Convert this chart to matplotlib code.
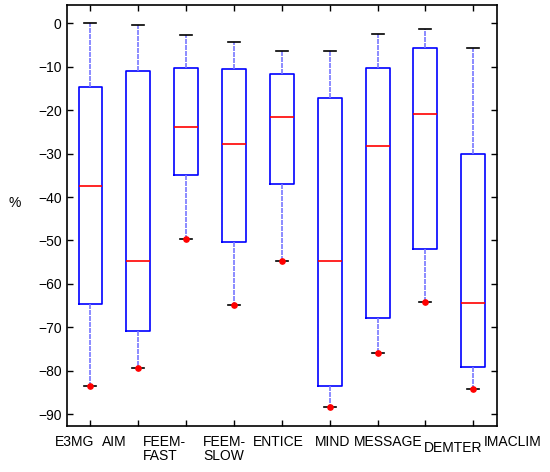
import matplotlib
matplotlib.use("Agg")
import matplotlib.pyplot as plt
import matplotlib.transforms as mtransforms

plt.rcParams['font.family'] = ['Liberation Sans', 'DejaVu Sans']
plt.rcParams['font.size'] = 10

# models and box statistics (%)
models = ["E3MG", "AIM", "FEEM-\nFAST", "FEEM-\nSLOW", "ENTICE",
          "MIND", "MESSAGE", "DEMTER", "IMACLIM"]
upper = [0.0, -0.4, -2.6, -4.4, -6.3, -6.3, -2.4, -1.3, -5.8]
q3 = [-14.6, -11.0, -10.4, -10.6, -11.7, -17.1, -10.3, -5.8, -30.1]
median = [-37.5, -54.8, -23.9, -27.9, -21.7, -54.8, -28.2, -20.9, -64.5]
q1 = [-64.7, -70.9, -34.9, -50.3, -36.9, -83.6, -67.8, -52.0, -79.1]
lower = [-83.5, -79.4, -49.7, -64.9, -54.8, -88.3, -75.8, -64.2, -84.3]

# label placement tweaks (left edge offset from tick, in box units)
label_dx = [-0.75, -0.76, -0.91, -0.65, -0.6, -0.3, -0.5, -0.03, 0.22]
label_dy = [0, 0, 0, 0, 0, 0, 0, -6, 0]

stats = []
for i in range(len(models)):
    stats.append(dict(med=median[i], q1=q1[i], q3=q3[i],
                      whislo=lower[i], whishi=upper[i], fliers=[lower[i]]))

fig = plt.figure(figsize=(5.5, 4.72), dpi=100)
ax = fig.add_axes([0.121, 0.0975, 0.783, 0.892])

pos = list(range(1, len(models) + 1))
ax.bxp(stats, positions=pos, widths=0.5, capwidths=0.25, showfliers=True,
       boxprops=dict(color='blue', linewidth=1.2),
       medianprops=dict(color='red', linewidth=1.2),
       whiskerprops=dict(color='#7878ff', linewidth=1.2, linestyle=(0, (3, 0.6))),
       capprops=dict(color='black', linewidth=1.2),
       flierprops=dict(marker='o', markersize=3.8, markerfacecolor='red',
                       markeredgecolor='red', linestyle='none'))

ax.set_xlim(0.5, 9.5)
ax.set_ylim(-92.7, 4.2)
ax.set_yticks(range(-90, 1, 10))
ax.set_xticks(pos)
ax.set_xticklabels([])
ax.tick_params(direction='in', top=True, right=True, length=4, width=1)
for s in ax.spines.values():
    s.set_linewidth(1.2)

trans = mtransforms.blended_transform_factory(ax.transData, ax.transAxes)
for i, name in enumerate(models):
    off = mtransforms.offset_copy(trans, fig=fig, x=0, y=label_dy[i], units='dots')
    ax.text(pos[i] + label_dx[i], -0.022, name, transform=off,
            ha='left', va='top', linespacing=1.0)

ax.set_ylabel('%', rotation=0, ha='center', va='center')
ax.yaxis.set_label_coords(-0.12, 0.53)

fig.savefig('out.png', dpi=100)
